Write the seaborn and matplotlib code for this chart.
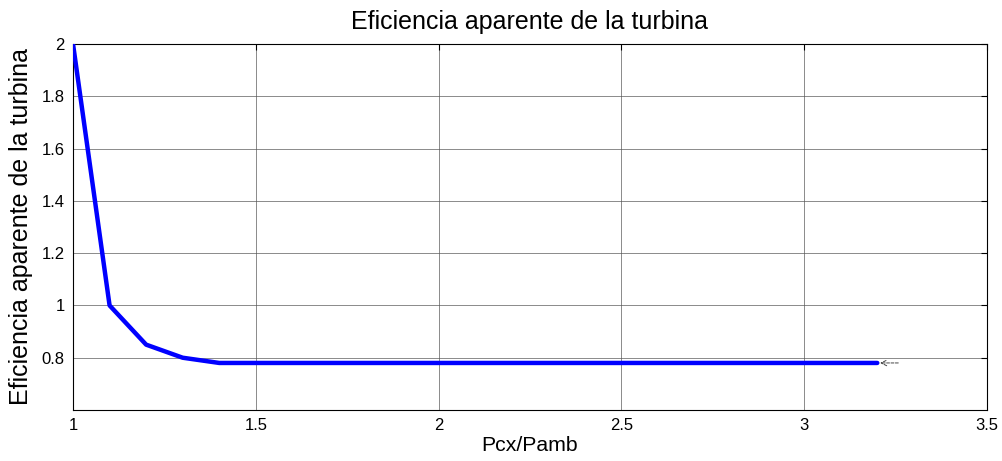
import matplotlib
matplotlib.use("Agg")
import matplotlib.pyplot as plt
import seaborn as sns
import pandas as pd

# Pressure ratio and apparent turbine efficiency
pcx_pamb = [1.0, 1.1, 1.2, 1.3, 1.4, 1.5, 1.6, 1.7, 1.8, 1.9, 2.0, 2.1,
            2.2, 2.3, 2.4, 2.5, 2.6, 2.7, 2.8, 2.9, 3.0, 3.1, 3.2]
eficiencia = [2.0, 1.0, 0.85, 0.80, 0.78, 0.78, 0.78, 0.78, 0.78, 0.78,
              0.78, 0.78, 0.78, 0.78, 0.78, 0.78, 0.78, 0.78, 0.78, 0.78,
              0.78, 0.78, 0.78]
x_ticks = [1, 1.5, 2, 2.5, 3, 3.5]
x_tick_labels = ["1", "1.5", "2", "2.5", "3", "3.5"]
y_ticks = [0.8, 1.0, 1.2, 1.4, 1.6, 1.8, 2.0]
y_tick_labels = ["0.8", "1", "1.2", "1.4", "1.6", "1.8", "2"]

df = pd.DataFrame({"Pcx/Pamb": pcx_pamb, "Eficiencia": eficiencia})

sns.set_style("white")
plt.rcParams["font.family"] = ["Liberation Sans", "DejaVu Sans"]
plt.rcParams["text.color"] = "black"
plt.rcParams["axes.labelcolor"] = "black"

fig = plt.figure(figsize=(10.03, 4.61), dpi=100)
ax = fig.add_axes([0.0728, 0.1106, 0.9112, 0.794])

sns.lineplot(data=df, x="Pcx/Pamb", y="Eficiencia", ax=ax,
             color="#0000ff", linewidth=3.2, zorder=3)

ax.set_xlim(1, 3.5)
ax.set_ylim(0.6, 2.0)
ax.set_xticks(x_ticks)
ax.set_xticklabels(x_tick_labels)
ax.set_yticks(y_ticks)
ax.set_yticklabels(y_tick_labels)

ax.grid(True, color="#555555", linewidth=0.6, linestyle="-", alpha=0.8)
ax.tick_params(direction="in", length=4, width=0.8, labelsize=12,
               top=True, right=True, colors="black", pad=6)
for s in ax.spines.values():
    s.set_color("black")
    s.set_linewidth(0.8)

ax.set_xlabel("Pcx/Pamb", fontsize=15.3, labelpad=2, color="black")
ax.set_ylabel("Eficiencia aparente de la turbina", fontsize=18,
              labelpad=6, color="black")
ax.set_title("Eficiencia aparente de la turbina", fontsize=18, pad=11,
             color="black")

# small pointer at the end of the curve
ax.annotate("", xy=(pcx_pamb[-1], eficiencia[-1]),
            xytext=(pcx_pamb[-1] + 0.065, eficiencia[-1]),
            arrowprops=dict(arrowstyle="->", color="#444444", lw=0.7,
                            linestyle=(0, (3, 1.5))))

fig.savefig("out.png", dpi=100)
